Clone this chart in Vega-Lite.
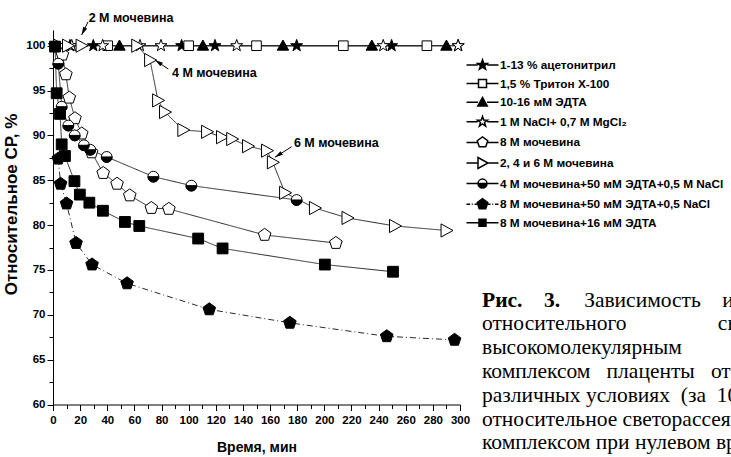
{
  "$schema": "https://vega.github.io/schema/vega-lite/v6.json",
  "width": 407,
  "height": 374.5,
  "autosize": {"type": "none"},
  "padding": {"left": 53, "top": 30, "right": 271, "bottom": 52.5},
  "background": "white",
  "config": {"view": {"stroke": null}, "axis": {"grid": false}},
  "title": {
    "text": "Рис.\u00a0\u00a0\u00a0\u00a03.",
    "subtitle": [
      "\u200b\u00a0\u00a0\u00a0\u00a0\u00a0\u00a0\u00a0\u00a0\u00a0\u00a0\u00a0\u00a0\u00a0\u00a0\u00a0\u00a0\u00a0\u00a0\u00a0Зависимость\u00a0\u00a0\u00a0\u00a0интенсивности",
      "относительного\u00a0\u00a0\u00a0\u00a0\u00a0\u00a0\u00a0\u00a0\u00a0\u00a0\u00a0\u00a0\u00a0\u00a0\u00a0\u00a0\u00a0светорассеяния",
      "высокомолекулярным",
      "комплексом\u00a0\u00a0\u00a0плаценты\u00a0\u00a0\u00a0от\u00a0\u00a0\u00a0времени",
      "различных\u00a0условиях\u00a0\u00a0(за\u00a0\u00a0100\u00a0\u00a0%\u00a0\u00a0принято",
      "относительное светорассеяние",
      "комплексом при нулевом времени)"
    ],
    "orient": "top",
    "anchor": "start",
    "frame": "group",
    "baseline": "top",
    "offset": 0,
    "dx": 429,
    "dy": 442,
    "font": "Liberation Serif",
    "fontSize": 21.5,
    "fontWeight": "bold",
    "color": "black",
    "subtitleFont": "Liberation Serif",
    "subtitleFontSize": 21.5,
    "subtitleFontWeight": "normal",
    "subtitleColor": "black",
    "subtitleLineHeight": 23.8,
    "subtitlePadding": -21.5
  },
  "data": {
    "values": [
      {"series": "1-13 % ацетонитрил", "curve": "a1", "t": 1, "v": 100},
      {"series": "1-13 % ацетонитрил", "curve": "a1", "t": 12.5, "v": 100},
      {"series": "1-13 % ацетонитрил", "curve": "a1", "t": 29.7, "v": 100},
      {"series": "1-13 % ацетонитрил", "curve": "a1", "t": 94.8, "v": 100},
      {"series": "1-13 % ацетонитрил", "curve": "a1", "t": 119.4, "v": 100},
      {"series": "1-13 % ацетонитрил", "curve": "a1", "t": 179.6, "v": 100},
      {"series": "1-13 % ацетонитрил", "curve": "a1", "t": 249.6, "v": 100},
      {"series": "1-13 % ацетонитрил", "curve": "a1", "t": 298.7, "v": 100},
      {"series": "1,5 % Тритон Х-100", "curve": "a2", "t": 40.3, "v": 100},
      {"series": "1,5 % Тритон Х-100", "curve": "a2", "t": 100, "v": 100},
      {"series": "1,5 % Тритон Х-100", "curve": "a2", "t": 150, "v": 100},
      {"series": "1,5 % Тритон Х-100", "curve": "a2", "t": 214, "v": 100},
      {"series": "1,5 % Тритон Х-100", "curve": "a2", "t": 275.6, "v": 100},
      {"series": "10-16 мМ ЭДТА", "curve": "a3", "t": 49, "v": 100},
      {"series": "10-16 мМ ЭДТА", "curve": "a3", "t": 110.5, "v": 100},
      {"series": "10-16 мМ ЭДТА", "curve": "a3", "t": 169.5, "v": 100},
      {"series": "10-16 мМ ЭДТА", "curve": "a3", "t": 235, "v": 100},
      {"series": "10-16 мМ ЭДТА", "curve": "a3", "t": 290, "v": 100},
      {"series": "1 М NaCl+ 0,7 М MgCl₂", "curve": "a4", "t": 13.8, "v": 100},
      {"series": "1 М NaCl+ 0,7 М MgCl₂", "curve": "a4", "t": 36.6, "v": 100},
      {"series": "1 М NaCl+ 0,7 М MgCl₂", "curve": "a4", "t": 64.1, "v": 100},
      {"series": "1 М NaCl+ 0,7 М MgCl₂", "curve": "a4", "t": 79.6, "v": 100},
      {"series": "1 М NaCl+ 0,7 М MgCl₂", "curve": "a4", "t": 135.4, "v": 100},
      {"series": "1 М NaCl+ 0,7 М MgCl₂", "curve": "a4", "t": 243.4, "v": 100},
      {"series": "1 М NaCl+ 0,7 М MgCl₂", "curve": "a4", "t": 298.6, "v": 100},
      {"series": "8 М мочевина", "curve": "a5", "t": 6.9, "v": 99},
      {"series": "8 М мочевина", "curve": "a5", "t": 9.5, "v": 96.8},
      {"series": "8 М мочевина", "curve": "a5", "t": 12, "v": 94.2},
      {"series": "8 М мочевина", "curve": "a5", "t": 16.2, "v": 91.9},
      {"series": "8 М мочевина", "curve": "a5", "t": 21.2, "v": 90.2},
      {"series": "8 М мочевина", "curve": "a5", "t": 28.5, "v": 88.1},
      {"series": "8 М мочевина", "curve": "a5", "t": 37, "v": 85.8},
      {"series": "8 М мочевина", "curve": "a5", "t": 47.2, "v": 84.6},
      {"series": "8 М мочевина", "curve": "a5", "t": 56.6, "v": 83.3},
      {"series": "8 М мочевина", "curve": "a5", "t": 72.5, "v": 81.9},
      {"series": "8 М мочевина", "curve": "a5", "t": 85.4, "v": 81.8},
      {"series": "8 М мочевина", "curve": "a5", "t": 156, "v": 78.9},
      {"series": "8 М мочевина", "curve": "a5", "t": 208.5, "v": 78},
      {"series": "2, 4 и 6 М мочевина", "curve": "a6", "t": 4.5, "v": 100},
      {"series": "2, 4 и 6 М мочевина", "curve": "a6", "t": 11, "v": 100},
      {"series": "2, 4 и 6 М мочевина", "curve": "a6", "t": 21, "v": 100},
      {"series": "2, 4 и 6 М мочевина", "curve": "b6", "t": 62, "v": 100},
      {"series": "2, 4 и 6 М мочевина", "curve": "b6", "t": 71.5, "v": 98.4},
      {"series": "2, 4 и 6 М мочевина", "curve": "b6", "t": 77.4, "v": 93.9},
      {"series": "2, 4 и 6 М мочевина", "curve": "b6", "t": 82.5, "v": 92.6},
      {"series": "2, 4 и 6 М мочевина", "curve": "b6", "t": 96, "v": 90.6},
      {"series": "2, 4 и 6 М мочевина", "curve": "b6", "t": 113.5, "v": 90.4},
      {"series": "2, 4 и 6 М мочевина", "curve": "b6", "t": 124.5, "v": 89.8},
      {"series": "2, 4 и 6 М мочевина", "curve": "b6", "t": 132, "v": 89.6},
      {"series": "2, 4 и 6 М мочевина", "curve": "b6", "t": 143.7, "v": 88.8},
      {"series": "2, 4 и 6 М мочевина", "curve": "b6", "t": 157.7, "v": 88.3},
      {"series": "2, 4 и 6 М мочевина", "curve": "b6", "t": 162, "v": 87},
      {"series": "2, 4 и 6 М мочевина", "curve": "b6", "t": 171, "v": 83.6},
      {"series": "2, 4 и 6 М мочевина", "curve": "b6", "t": 193, "v": 81.9},
      {"series": "2, 4 и 6 М мочевина", "curve": "b6", "t": 217, "v": 80.8},
      {"series": "2, 4 и 6 М мочевина", "curve": "b6", "t": 252, "v": 79.9},
      {"series": "2, 4 и 6 М мочевина", "curve": "b6", "t": 290, "v": 79.4},
      {"series": "4 М мочевина+50 мМ ЭДТА+0,5 М NaCl", "curve": "a7", "t": 3.9, "v": 98},
      {"series": "4 М мочевина+50 мМ ЭДТА+0,5 М NaCl", "curve": "a7", "t": 6.4, "v": 93.2},
      {"series": "4 М мочевина+50 мМ ЭДТА+0,5 М NaCl", "curve": "a7", "t": 11.3, "v": 91.1},
      {"series": "4 М мочевина+50 мМ ЭДТА+0,5 М NaCl", "curve": "a7", "t": 16, "v": 90},
      {"series": "4 М мочевина+50 мМ ЭДТА+0,5 М NaCl", "curve": "a7", "t": 22.8, "v": 88.9},
      {"series": "4 М мочевина+50 мМ ЭДТА+0,5 М NaCl", "curve": "a7", "t": 27.5, "v": 88.4},
      {"series": "4 М мочевина+50 мМ ЭДТА+0,5 М NaCl", "curve": "a7", "t": 39.6, "v": 87.6},
      {"series": "4 М мочевина+50 мМ ЭДТА+0,5 М NaCl", "curve": "a7", "t": 74, "v": 85.4},
      {"series": "4 М мочевина+50 мМ ЭДТА+0,5 М NaCl", "curve": "a7", "t": 102, "v": 84.4},
      {"series": "4 М мочевина+50 мМ ЭДТА+0,5 М NaCl", "curve": "a7", "t": 179.6, "v": 82.8},
      {"series": "8 М мочевина+50 мМ ЭДТА+0,5 NaCl", "curve": "a8", "t": 3.9, "v": 87.4},
      {"series": "8 М мочевина+50 мМ ЭДТА+0,5 NaCl", "curve": "a8", "t": 5.6, "v": 84.6},
      {"series": "8 М мочевина+50 мМ ЭДТА+0,5 NaCl", "curve": "a8", "t": 10, "v": 82.4},
      {"series": "8 М мочевина+50 мМ ЭДТА+0,5 NaCl", "curve": "a8", "t": 17, "v": 78},
      {"series": "8 М мочевина+50 мМ ЭДТА+0,5 NaCl", "curve": "a8", "t": 28.8, "v": 75.6},
      {"series": "8 М мочевина+50 мМ ЭДТА+0,5 NaCl", "curve": "a8", "t": 54.6, "v": 73.5},
      {"series": "8 М мочевина+50 мМ ЭДТА+0,5 NaCl", "curve": "a8", "t": 115.2, "v": 70.6},
      {"series": "8 М мочевина+50 мМ ЭДТА+0,5 NaCl", "curve": "a8", "t": 174.6, "v": 69.1},
      {"series": "8 М мочевина+50 мМ ЭДТА+0,5 NaCl", "curve": "a8", "t": 246, "v": 67.6},
      {"series": "8 М мочевина+50 мМ ЭДТА+0,5 NaCl", "curve": "a8", "t": 296, "v": 67.2},
      {"series": "8 М мочевина+16 мМ ЭДТА", "curve": "a9", "t": 1.5, "v": 99.9},
      {"series": "8 М мочевина+16 мМ ЭДТА", "curve": "a9", "t": 2.7, "v": 94.7},
      {"series": "8 М мочевина+16 мМ ЭДТА", "curve": "a9", "t": 5.2, "v": 92.4},
      {"series": "8 М мочевина+16 мМ ЭДТА", "curve": "a9", "t": 6.4, "v": 89},
      {"series": "8 М мочевина+16 мМ ЭДТА", "curve": "a9", "t": 8.8, "v": 87.7},
      {"series": "8 М мочевина+16 мМ ЭДТА", "curve": "a9", "t": 15.8, "v": 84.9},
      {"series": "8 М мочевина+16 мМ ЭДТА", "curve": "a9", "t": 19.8, "v": 83.4},
      {"series": "8 М мочевина+16 мМ ЭДТА", "curve": "a9", "t": 26.8, "v": 82.5},
      {"series": "8 М мочевина+16 мМ ЭДТА", "curve": "a9", "t": 36.8, "v": 81.6},
      {"series": "8 М мочевина+16 мМ ЭДТА", "curve": "a9", "t": 53, "v": 80.35},
      {"series": "8 М мочевина+16 мМ ЭДТА", "curve": "a9", "t": 63.6, "v": 79.9},
      {"series": "8 М мочевина+16 мМ ЭДТА", "curve": "a9", "t": 107, "v": 78.5},
      {"series": "8 М мочевина+16 мМ ЭДТА", "curve": "a9", "t": 125, "v": 77.4},
      {"series": "8 М мочевина+16 мМ ЭДТА", "curve": "a9", "t": 200.4, "v": 75.6},
      {"series": "8 М мочевина+16 мМ ЭДТА", "curve": "a9", "t": 250.6, "v": 74.8}
    ]
  },
  "encoding": {
    "x": {"field": "t", "type": "quantitative", "scale": {"domain": [0, 300], "nice": false, "zero": false}, "axis": null},
    "y": {"field": "v", "type": "quantitative", "scale": {"domain": [60, 101.75], "nice": false, "zero": false}, "axis": null}
  },
  "layer": [
    {
      "mark": {"type": "line", "color": "#2a2a2a", "strokeWidth": 1},
      "encoding": {
        "x": {"field": "t", "type": "quantitative", "scale": {"domain": [0, 300], "nice": false, "zero": false},
          "axis": {"orient": "bottom", "values": [0, 20, 40, 60, 80, 100, 120, 140, 160, 180, 200, 220, 240, 260, 280, 300],
            "title": "Время, мин", "titleFont": "Liberation Sans", "titleFontSize": 14, "titleFontWeight": "bold", "titleColor": "black",
            "titlePadding": 14, "labelFont": "Liberation Sans", "labelFontSize": 11.5, "labelFontWeight": "bold", "labelColor": "black",
            "tickSize": 6, "tickColor": "black", "domainColor": "black", "labelPadding": 4, "labelFlush": false, "labelOverlap": false}},
        "y": {"field": "v", "type": "quantitative", "scale": {"domain": [60, 101.75], "nice": false, "zero": false},
          "axis": {"orient": "left", "values": [60, 65, 70, 75, 80, 85, 90, 95, 100],
            "title": "Относительное СР, %", "titleFont": "Liberation Sans", "titleFontSize": 17, "titleFontWeight": "bold", "titleColor": "black",
            "titleX": -42, "titleY": 174, "titleBaseline": "middle", "titleAngle": -90, "titleAlign": "center",
            "labelFont": "Liberation Sans", "labelFontSize": 11.5, "labelFontWeight": "bold", "labelColor": "black",
            "tickSize": 6, "tickColor": "black", "domainColor": "black", "labelPadding": 2, "labelFlush": false, "labelOverlap": false}},
        "detail": {"field": "curve"},
        "strokeDash": {"field": "series", "type": "nominal", "legend": null,
          "scale": {"domain": ["1-13 % ацетонитрил", "1,5 % Тритон Х-100", "10-16 мМ ЭДТА", "1 М NaCl+ 0,7 М MgCl₂", "8 М мочевина", "2, 4 и 6 М мочевина", "4 М мочевина+50 мМ ЭДТА+0,5 М NaCl", "8 М мочевина+50 мМ ЭДТА+0,5 NaCl", "8 М мочевина+16 мМ ЭДТА"],
            "range": [[1, 0], [1, 0], [1, 0], [1, 0], [1, 0], [1, 0], [1, 0], [6, 3, 1, 3], [1, 0]]}}
      }
    },
    {
      "mark": {"type": "point", "filled": true, "stroke": "black", "strokeWidth": 1, "size": 144, "opacity": 1},
      "encoding": {
        "x": {"field": "t", "type": "quantitative", "scale": {"domain": [0, 300], "nice": false, "zero": false},
          "axis": {"orient": "bottom", "values": [10, 30, 50, 70, 90, 110, 130, 150, 170, 190, 210, 230, 250, 270, 290],
            "labels": false, "domain": false, "title": null, "tickSize": 4, "tickColor": "black"}},
        "y": {"field": "v", "type": "quantitative", "scale": {"domain": [60, 101.75], "nice": false, "zero": false},
          "axis": {"orient": "left", "values": [62.5, 67.5, 72.5, 77.5, 82.5, 87.5, 92.5, 97.5],
            "labels": false, "domain": false, "title": null, "tickSize": 4, "tickColor": "black"}},
        "shape": {"field": "series", "type": "nominal", "legend": null,
          "scale": {"domain": ["1-13 % ацетонитрил", "1,5 % Тритон Х-100", "10-16 мМ ЭДТА", "1 М NaCl+ 0,7 М MgCl₂", "8 М мочевина", "2, 4 и 6 М мочевина", "4 М мочевина+50 мМ ЭДТА+0,5 М NaCl", "8 М мочевина+50 мМ ЭДТА+0,5 NaCl", "8 М мочевина+16 мМ ЭДТА"],
            "range": [
              "M0,-1.05L0.25,-0.34L1,-0.32L0.4,0.13L0.62,0.85L0,0.42L-0.62,0.85L-0.4,0.13L-1,-0.32L-0.25,-0.34Z",
              "M-0.8,-0.8H0.8V0.8H-0.8Z",
              "M0,-0.95L0.95,0.75H-0.95Z",
              "M0,-1.05L0.25,-0.34L1,-0.32L0.4,0.13L0.62,0.85L0,0.42L-0.62,0.85L-0.4,0.13L-1,-0.32L-0.25,-0.34Z",
              "M0,-1.1L1.05,-0.34L0.65,0.89L-0.65,0.89L-1.05,-0.34Z",
              "M-0.9,-1.1L1.1,0L-0.9,1.1Z",
              "M-0.9,0A0.9,0.9 0 1 1 0.9,0A0.9,0.9 0 1 1 -0.9,0Z",
              "M0,-1.1L1.05,-0.34L0.65,0.89L-0.65,0.89L-1.05,-0.34Z",
              "M-0.9,-0.9H0.9V0.9H-0.9Z"
            ]}},
        "fill": {"field": "series", "type": "nominal", "legend": null,
          "scale": {"domain": ["1-13 % ацетонитрил", "1,5 % Тритон Х-100", "10-16 мМ ЭДТА", "1 М NaCl+ 0,7 М MgCl₂", "8 М мочевина", "2, 4 и 6 М мочевина", "4 М мочевина+50 мМ ЭДТА+0,5 М NaCl", "8 М мочевина+50 мМ ЭДТА+0,5 NaCl", "8 М мочевина+16 мМ ЭДТА"],
            "range": ["black", "white", "black", "white", "white", "white", "white", "black", "black"]}}
      }
    },
    {
      "transform": [{"filter": "datum.series === '4 М мочевина+50 мМ ЭДТА+0,5 М NaCl'"}],
      "mark": {"type": "point", "filled": true, "fill": "black", "stroke": "black", "strokeWidth": 1, "size": 144, "opacity": 1,
        "shape": "M-0.9,0A0.9,0.9 0 0 0 0.9,0Z"}
    },
    {
      "transform": [{"filter": "datum.t < -1000"}],
      "mark": {"type": "point", "filled": true, "stroke": "black", "strokeWidth": 1, "size": 100},
      "encoding": {
        "shape": {"field": "series", "type": "nominal",
          "scale": {"domain": ["1-13 % ацетонитрил", "1,5 % Тритон Х-100", "10-16 мМ ЭДТА", "1 М NaCl+ 0,7 М MgCl₂", "8 М мочевина", "2, 4 и 6 М мочевина", "4 М мочевина+50 мМ ЭДТА+0,5 М NaCl", "8 М мочевина+50 мМ ЭДТА+0,5 NaCl", "8 М мочевина+16 мМ ЭДТА"],
            "range": [
              "M-3.2,0H-0.95M0.95,0H3.2M0,-1.05L0.25,-0.34L1,-0.32L0.4,0.13L0.62,0.85L0,0.42L-0.62,0.85L-0.4,0.13L-1,-0.32L-0.25,-0.34Z",
              "M-3.2,0H-0.8M0.8,0H3.2M-0.8,-0.8H0.8V0.8H-0.8Z",
              "M-3.2,0H-0.9M0.9,0H3.2M0,-0.95L0.95,0.75H-0.95Z",
              "M-3.2,0H-0.95M0.95,0H3.2M0,-1.05L0.25,-0.34L1,-0.32L0.4,0.13L0.62,0.85L0,0.42L-0.62,0.85L-0.4,0.13L-1,-0.32L-0.25,-0.34Z",
              "M-3.2,0H-1.05M1.05,0H3.2M0,-1.1L1.05,-0.34L0.65,0.89L-0.65,0.89L-1.05,-0.34Z",
              "M-3.2,0H-0.9M1.1,0H3.2M-0.9,-1.1L1.1,0L-0.9,1.1Z",
              "M-3.2,0H-0.9M0.9,0H3.2M-0.9,0A0.9,0.9 0 0 0 0.9,0ZM-0.9,0A0.9,0.9 0 0 1 0.9,0A0.9,0.9 0 0 0 -0.9,0",
              "M-3.2,0H-2.5M-2.15,0H-1.95M-1.6,0H-1.05M1.05,0H1.6M1.95,0H2.15M2.5,0H3.2M0,-1.1L1.05,-0.34L0.65,0.89L-0.65,0.89L-1.05,-0.34Z",
              "M-3.2,0H-0.7M0.7,0H3.2M-0.7,-0.7H0.7V0.7H-0.7Z"
            ]},
          "legend": {"title": null, "orient": "none", "legendX": 423.5, "legendY": 29, "padding": 0,
            "labelFont": "Liberation Sans", "labelFontWeight": "bold", "labelFontSize": 11.8, "labelColor": "black",
            "labelOffset": 11.5, "rowPadding": 3.6, "labelLimit": 400, "symbolSize": 100, "symbolOpacity": 1,
            "encode": {"symbols": {"stroke": {"value": "black"}, "strokeWidth": {"value": 1}}}}},
        "fill": {"field": "series", "type": "nominal",
          "scale": {"domain": ["1-13 % ацетонитрил", "1,5 % Тритон Х-100", "10-16 мМ ЭДТА", "1 М NaCl+ 0,7 М MgCl₂", "8 М мочевина", "2, 4 и 6 М мочевина", "4 М мочевина+50 мМ ЭДТА+0,5 М NaCl", "8 М мочевина+50 мМ ЭДТА+0,5 NaCl", "8 М мочевина+16 мМ ЭДТА"],
            "range": ["black", "white", "black", "white", "white", "white", "black", "black", "black"]},
          "legend": {"title": null, "orient": "none", "legendX": 423.5, "legendY": 29, "padding": 0,
            "labelFont": "Liberation Sans", "labelFontWeight": "bold", "labelFontSize": 11.8, "labelColor": "black",
            "labelOffset": 11.5, "rowPadding": 3.6, "labelLimit": 400, "symbolSize": 100, "symbolOpacity": 1,
            "encode": {"symbols": {"stroke": {"value": "black"}, "strokeWidth": {"value": 1}}}}}
      }
    },
    {
      "data": {"values": [
        {"label": "2 М мочевина", "t": 26.3, "v": 103.1, "t2": 21.1, "v2": 101.2, "t0": 25.8, "v0": 102.65},
        {"label": "4 М мочевина", "t": 87.7, "v": 97.0, "t2": 75.2, "v2": 98.4, "t0": 85, "v0": 97.4},
        {"label": "6 М мочевина", "t": 177.6, "v": 89.2, "t2": 163.6, "v2": 87.56, "t0": 175.9, "v0": 88.74}
      ]},
      "layer": [
        {
          "mark": {"type": "text", "font": "Liberation Sans", "fontSize": 12.5, "fontWeight": "bold", "align": "left", "baseline": "middle", "color": "black"},
          "encoding": {"text": {"field": "label"}}
        },
        {
          "mark": {"type": "rule", "color": "black", "strokeWidth": 1},
          "encoding": {
            "x": {"field": "t0", "type": "quantitative", "scale": {"domain": [0, 300], "nice": false, "zero": false}, "axis": null},
            "y": {"field": "v0", "type": "quantitative", "scale": {"domain": [60, 101.75], "nice": false, "zero": false}, "axis": null},
            "x2": {"field": "t2"},
            "y2": {"field": "v2"}
          }
        },
        {
          "transform": [{"filter": "datum.label === '2 М мочевина'"}],
          "mark": {"type": "point", "filled": true, "color": "black", "opacity": 1, "size": 64, "shape": "M0,0L0.55,2L-0.55,2Z", "angle": 205.9},
          "encoding": {
            "x": {"field": "t2", "type": "quantitative", "scale": {"domain": [0, 300], "nice": false, "zero": false}, "axis": null},
            "y": {"field": "v2", "type": "quantitative", "scale": {"domain": [60, 101.75], "nice": false, "zero": false}, "axis": null}
          }
        },
        {
          "transform": [{"filter": "datum.label === '4 М мочевина'"}],
          "mark": {"type": "point", "filled": true, "color": "black", "opacity": 1, "size": 64, "shape": "M0,0L0.55,2L-0.55,2Z", "angle": 304.1},
          "encoding": {
            "x": {"field": "t2", "type": "quantitative", "scale": {"domain": [0, 300], "nice": false, "zero": false}, "axis": null},
            "y": {"field": "v2", "type": "quantitative", "scale": {"domain": [60, 101.75], "nice": false, "zero": false}, "axis": null}
          }
        },
        {
          "transform": [{"filter": "datum.label === '6 М мочевина'"}],
          "mark": {"type": "point", "filled": true, "color": "black", "opacity": 1, "size": 64, "shape": "M0,0L0.55,2L-0.55,2Z", "angle": 237.6},
          "encoding": {
            "x": {"field": "t2", "type": "quantitative", "scale": {"domain": [0, 300], "nice": false, "zero": false}, "axis": null},
            "y": {"field": "v2", "type": "quantitative", "scale": {"domain": [60, 101.75], "nice": false, "zero": false}, "axis": null}
          }
        }
      ]
    }
  ],
  "resolve": {
    "scale": {"shape": "independent", "fill": "independent"},
    "axis": {"x": "independent", "y": "independent"}
  }
}
